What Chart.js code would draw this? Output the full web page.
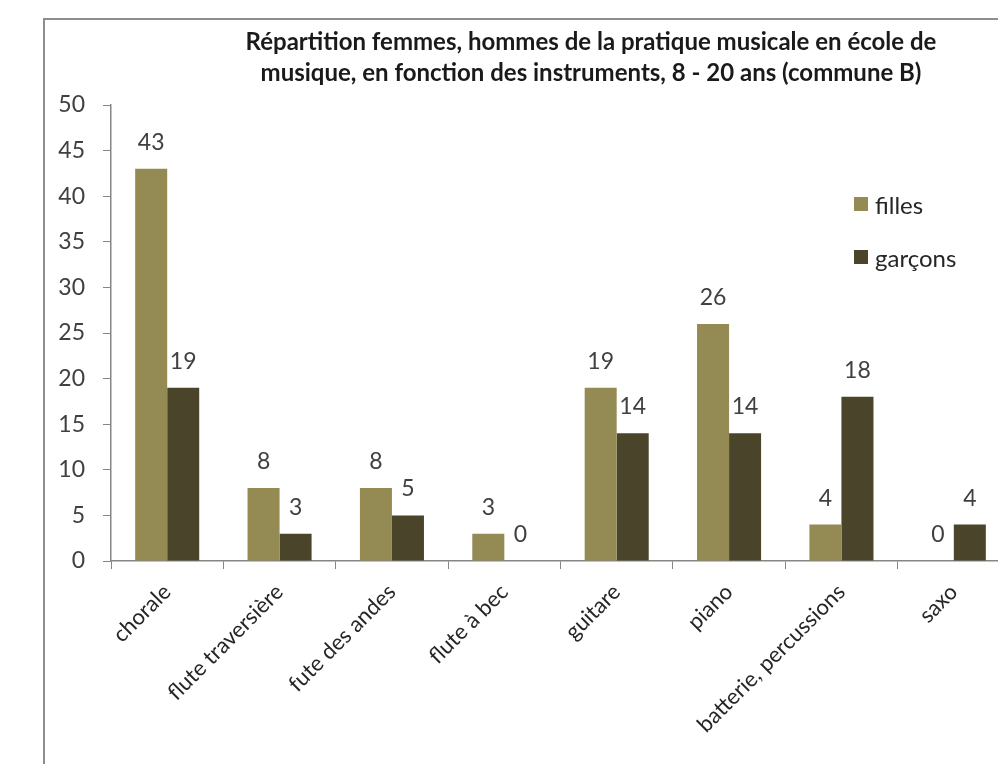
<!DOCTYPE html>
<html>
<head>
<meta charset="utf-8">
<script src="https://cdn.jsdelivr.net/npm/chart.js@4"></script>
<style>
  html, body { margin: 0; padding: 0; background: #fff; overflow: hidden; }
  body { width: 998px; height: 764px; position: relative; font-family: Lato, sans-serif; }
  .frame { position: absolute; left: 43px; top: 18px; width: 1000px; height: 800px;
           border-left: 2px solid #8e8e8e; border-top: 2px solid #8e8e8e; }
  #chart { position: absolute; left: 0; top: 0; }
  .title { position: absolute; left: 591px; top: 25px; transform: translateX(-50%);
           white-space: nowrap; text-align: center; font-weight: bold; font-size: 24px;
           line-height: 31px; color: #1a1a1a; }
  .legend { position: absolute; left: 854px; top: 190px; font-size: 24px; color: #262626; }
  .legend div { display: flex; align-items: center; height: 28px; margin-bottom: 25px; }
  .legend span.box { width: 14px; height: 14px; margin-right: 7px; display: inline-block; }
</style>
</head>
<body>
<div class="frame"></div>
<canvas id="chart" width="1040" height="764"></canvas>
<div class="title">Répartition femmes, hommes de la pratique musicale en école de<br>musique, en fonction des instruments, 8 - 20 ans (commune B)</div>
<div class="legend" id="legend"></div>
<script>
const categories = ['chorale', 'flute traversière', 'fute des andes', 'flute à bec', 'guitare', 'piano', 'batterie, percussions', 'saxo'];
const filles = [43, 8, 8, 3, 19, 26, 4, 0];
const garcons = [19, 3, 5, 0, 14, 14, 18, 4];
const seriesNames = ['filles', 'garçons'];
const seriesColors = ['#948A54', '#4A452A'];
const yTicks = [0, 5, 10, 15, 20, 25, 30, 35, 40, 45, 50];

const legendEl = document.getElementById('legend');
seriesNames.forEach((name, i) => {
    const row = document.createElement('div');
    row.innerHTML = '<span class="box" style="background:' + seriesColors[i] + '"></span>' + name;
    legendEl.appendChild(row);
});

// numbers above every bar
const barLabels = {
    id: 'barLabels',
    afterDatasetsDraw(chart) {
        const ctx = chart.ctx;
        ctx.save();
        ctx.font = '23px Lato';
        ctx.fillStyle = '#404040';
        ctx.textAlign = 'center';
        ctx.textBaseline = 'alphabetic';
        chart.data.datasets.forEach((ds, i) => {
            chart.getDatasetMeta(i).data.forEach((bar, j) => {
                ctx.fillText(String(ds.data[j]), bar.x, bar.y - 19);
            });
        });
        ctx.restore();
    }
};

new Chart(document.getElementById('chart'), {
    type: 'bar',
    data: {
        labels: categories,
        datasets: [
            { label: seriesNames[0], data: filles, backgroundColor: seriesColors[0] },
            { label: seriesNames[1], data: garcons, backgroundColor: seriesColors[1] }
        ]
    },
    options: {
        responsive: false,
        animation: false,
        devicePixelRatio: 1,
        layout: { padding: { left: 43, top: 105, right: 30, bottom: 0 } },
        plugins: { legend: { display: false }, tooltip: { enabled: false }, title: { display: false } },
        datasets: { bar: { barPercentage: 1, categoryPercentage: 0.57 } },
        scales: {
            x: {
                grid: { display: true, drawOnChartArea: false, offset: true, tickLength: 8, color: '#868686' },
                border: { color: '#868686', width: 1.5 },
                ticks: { minRotation: 45, maxRotation: 45, autoSkip: false, padding: 10,
                         color: '#262626', font: { family: 'Lato', size: 22 } },
                afterFit(scale) { scale.height = 203; }
            },
            y: {
                min: 0, max: 50,
                afterBuildTicks(scale) { scale.ticks = yTicks.map(v => ({ value: v })); },
                grid: { display: true, drawOnChartArea: false, tickLength: 8, color: '#868686' },
                border: { color: '#868686', width: 1.5 },
                ticks: { padding: 18, color: '#404040', font: { family: 'Lato', size: 23 } },
                afterFit(scale) { scale.width = 68; }
            }
        }
    },
    plugins: [barLabels]
});
</script>
</body>
</html>
